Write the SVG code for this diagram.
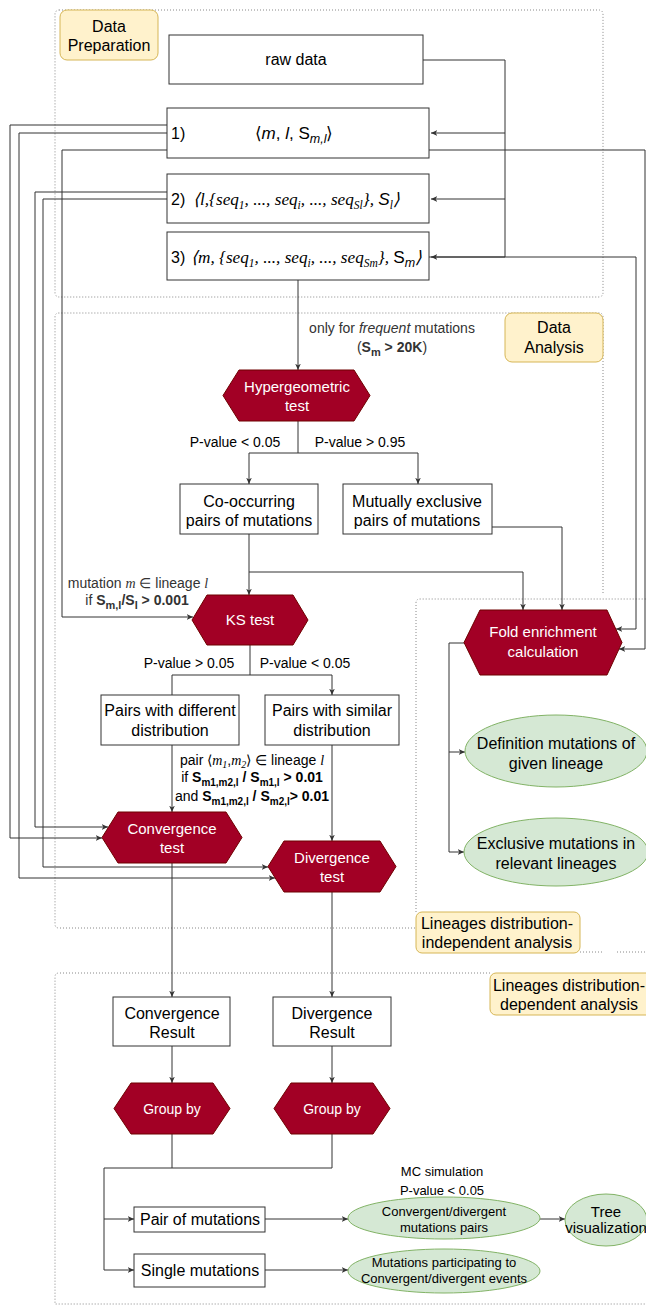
<svg xmlns="http://www.w3.org/2000/svg" width="646" height="1307" viewBox="0 0 646 1307">
<style>
.t{font-family:"Liberation Sans",Arial,Helvetica,sans-serif;fill:#000}
.c{text-anchor:middle}
.s16{font-size:16px}
.s15{font-size:15px}
.s14{font-size:14px}
.s13{font-size:13px}
.w{fill:#fff}
.g{fill:#333}
.b{font-weight:bold}
.it{font-style:italic}
.ser{font-family:"Liberation Serif","Times New Roman",serif;font-style:italic}
.box{fill:#fff;stroke:#333;stroke-width:1}
.hex{fill:#a20025;stroke:#6f0000;stroke-width:1}
.ell{fill:#d5e8d4;stroke:#82b366;stroke-width:1}
.lab{fill:#fff2cc;stroke:#d6b656;stroke-width:1}
.dot{fill:none;stroke:#888;stroke-width:1;stroke-dasharray:1 2}
.e{fill:none;stroke:#333;stroke-width:1}
</style>
<defs>
<marker id="arr" viewBox="0 0 10 10" refX="9" refY="5" markerWidth="7" markerHeight="7" orient="auto" markerUnits="userSpaceOnUse">
<path d="M0,1 L9,5 L0,9 L2.5,5 z" fill="#333"/>
</marker>
</defs>

<!-- containers -->
<g id="containers">
<rect class="dot" x="55" y="10" width="548" height="287" rx="4"/>
<path class="dot" d="M415,928 H59 Q55,928 55,924 V317 Q55,313 59,313 H599 Q603,313 603,317 V595"/>
<path class="dot" d="M416,912 V603 Q416,599 420,599 H646"/>
<path class="dot" d="M580,952 H602 M617,952 H646"/>
<path class="dot" d="M490,973 H59 Q55,973 55,977 V1304 H646"/>
</g>

<!-- connectors -->
<g id="connectors" class="e">
<path d="M423,60 H505 V257 H431" marker-end="url(#arr)"/>
<path d="M505,133 H431" marker-end="url(#arr)"/>
<path d="M505,199 H431" marker-end="url(#arr)"/>
<path d="M167,125 H10 V838 H102" marker-end="url(#arr)"/>
<path d="M167,133 H19 V878 H275" marker-end="url(#arr)"/>
<path d="M167,192 H35 V827 H108" marker-end="url(#arr)"/>
<path d="M167,199 H43 V867 H268" marker-end="url(#arr)"/>
<path d="M167,150 H62 V617 H193" marker-end="url(#arr)"/>
<path d="M429,150 H645 V649 H619" marker-end="url(#arr)"/>
<path d="M429,257 H636 V629 H616" marker-end="url(#arr)"/>
<path d="M298,280 V370" marker-end="url(#arr)"/>
<path d="M298,421 V453 H249 V484" marker-end="url(#arr)"/>
<path d="M298,453 H418 V484" marker-end="url(#arr)"/>
<path d="M249,534 V595" marker-end="url(#arr)"/>
<path d="M249,572 H523 V610" marker-end="url(#arr)"/>
<path d="M492,527 H562 V610" marker-end="url(#arr)"/>
<path d="M250,645 V675 H172 V695"/>
<path d="M250,675 H332 V695" marker-end="url(#arr)"/>
<path d="M172,745 V812" marker-end="url(#arr)"/>
<path d="M332,745 V841" marker-end="url(#arr)"/>
<path d="M464,643 H449 V752 H465" marker-end="url(#arr)"/>
<path d="M449,752 V852 H464" marker-end="url(#arr)"/>
<path d="M172,863 V997" marker-end="url(#arr)"/>
<path d="M332,892 V997" marker-end="url(#arr)"/>
<path d="M172,1046 V1083" marker-end="url(#arr)"/>
<path d="M332,1046 V1083" marker-end="url(#arr)"/>
<path d="M172,1134 V1168 H104 V1219 H134" marker-end="url(#arr)"/>
<path d="M104,1219 V1270 H134" marker-end="url(#arr)"/>
<path d="M332,1134 V1168 H172"/>
<path d="M265,1219 H348" marker-end="url(#arr)"/>
<path d="M540,1219 H565" marker-end="url(#arr)"/>
<path d="M265,1270 H348" marker-end="url(#arr)"/>
</g>

<!-- edge labels -->
<g id="edge-labels">
<text class="t s14 c g" x="392" y="333">only for <tspan class="it">frequent</tspan> mutations</text>
<text class="t s14 c g" x="392" y="352">(<tspan class="b">S</tspan><tspan class="b" font-size="11" dy="4">m</tspan><tspan class="b" dy="-4"> &gt; 20K</tspan>)</text>
<text class="t s14 c" x="235" y="447">P-value &lt; 0.05</text>
<text class="t s14 c" x="360" y="447">P-value &gt; 0.95</text>
<text class="t s14 c g" x="138" y="588">mutation <tspan class="ser">m</tspan> ∈ lineage <tspan class="ser">l</tspan></text>
<text class="t s14 c g" x="137" y="605">if <tspan class="b">S</tspan><tspan class="b" font-size="11" dy="4">m,l</tspan><tspan class="b" dy="-4">/S</tspan><tspan class="b" font-size="11" dy="4">l</tspan><tspan class="b" dy="-4"> &gt; 0.001</tspan></text>
<text class="t s14 c" x="189" y="668">P-value &gt; 0.05</text>
<text class="t s14 c" x="305" y="668">P-value &lt; 0.05</text>
<text class="t s14 c" x="252" y="765">pair ⟨<tspan class="ser">m</tspan><tspan class="ser" font-size="10" dy="3">1</tspan><tspan dy="-3">,</tspan><tspan class="ser">m</tspan><tspan class="ser" font-size="10" dy="3">2</tspan><tspan dy="-3">⟩ ∈ lineage </tspan><tspan class="ser">l</tspan></text>
<text class="t s14 c" x="252" y="782">if <tspan class="b">S</tspan><tspan class="b" font-size="10" dy="4">m1,m2,l</tspan><tspan class="b" dy="-4"> / S</tspan><tspan class="b" font-size="10" dy="4">m1,l</tspan><tspan class="b" dy="-4"> &gt; 0.01</tspan></text>
<text class="t s14 c" x="252" y="801">and <tspan class="b">S</tspan><tspan class="b" font-size="10" dy="4">m1,m2,l</tspan><tspan class="b" dy="-4"> / S</tspan><tspan class="b" font-size="10" dy="4">m2,l</tspan><tspan class="b" dy="-4">&gt; 0.01</tspan></text>
<text class="t s13 c" x="442" y="1176">MC simulation</text>
<text class="t s13 c" x="442" y="1195">P-value &lt; 0.05</text>
</g>

<g id="label-data-preparation">
<rect class="lab" x="60" y="10" width="98" height="50" rx="7"/>
<text class="t s16 c" x="109" y="32">Data</text>
<text class="t s16 c" x="109" y="51">Preparation</text>
</g>
<g id="raw-data">
<rect class="box" x="169" y="35" width="254" height="49"/>
<text class="t s16 c" x="296" y="65">raw data</text>
</g>
<g id="box1">
<rect class="box" x="167" y="108" width="262" height="50"/>
<text class="t s16" x="171" y="139">1)</text>
<text class="t c" font-size="17" x="294" y="139">⟨<tspan class="it">m</tspan>, <tspan class="it">l</tspan>, S<tspan class="it" font-size="12.5" dy="4">m,l</tspan><tspan dy="-4">⟩</tspan></text>
</g>
<g id="box2">
<rect class="box" x="167" y="174" width="262" height="49"/>
<text class="t s16" x="171" y="205">2)</text>
<text class="ser" font-size="17.2" x="193" y="205">⟨l,{seq<tspan font-size="11.5" dy="4">1</tspan><tspan dy="-4">, ..., seq</tspan><tspan font-size="11.5" dy="4">i</tspan><tspan dy="-4">, ..., seq</tspan><tspan font-size="11.5" dy="4">Sl</tspan><tspan dy="-4">}, </tspan><tspan font-family="Liberation Sans,Arial,sans-serif">S</tspan><tspan font-size="11.5" dy="4">l</tspan><tspan dy="-4">⟩</tspan></text>
</g>
<g id="box3">
<rect class="box" x="167" y="232" width="262" height="48"/>
<text class="t s16" x="171" y="263">3)</text>
<text class="ser" font-size="17.2" x="191" y="263">⟨m, {seq<tspan font-size="11.5" dy="4">1</tspan><tspan dy="-4">, ..., seq</tspan><tspan font-size="11.5" dy="4">i</tspan><tspan dy="-4">, ..., seq</tspan><tspan font-size="11.5" dy="4">Sm</tspan><tspan dy="-4">}, </tspan><tspan font-family="Liberation Sans,Arial,sans-serif" font-style="normal">S</tspan><tspan font-family="Liberation Sans,Arial,sans-serif" font-size="12.5" dy="4">m</tspan><tspan dy="-4">⟩</tspan></text>
</g>

<g id="label-data-analysis">
<rect class="lab" x="505" y="313" width="98" height="49" rx="7"/>
<text class="t s16 c" x="554" y="333">Data</text>
<text class="t s16 c" x="554" y="353">Analysis</text>
</g>
<g id="hypergeometric">
<polygon class="hex" points="223,395.5 239,370 354,370 370,395.5 354,421 239,421"/>
<text class="t s15 c w" x="297" y="392">Hypergeometric</text>
<text class="t s15 c w" x="297" y="411">test</text>
</g>
<g id="co-occurring">
<rect class="box" x="180" y="484" width="138" height="50"/>
<text class="t s16 c" x="249" y="507">Co-occurring</text>
<text class="t s16 c" x="249" y="526">pairs of mutations</text>
</g>
<g id="mutually-exclusive">
<rect class="box" x="343" y="484" width="149" height="50"/>
<text class="t s16 c" x="417" y="507">Mutually exclusive</text>
<text class="t s16 c" x="417" y="526">pairs of mutations</text>
</g>
<g id="ks-test">
<polygon class="hex" points="192,620 207,595 293,595 308,620 293,645 207,645"/>
<text class="t s15 c w" x="250" y="625">KS test</text>
</g>
<g id="fold-enrichment">
<polygon class="hex" points="464,642.5 480,610 607,610 622,642.5 607,675 480,675"/>
<text class="t s15 c w" x="543" y="637">Fold enrichment</text>
<text class="t s15 c w" x="543" y="657">calculation</text>
</g>
<g id="pairs-different">
<rect class="box" x="101" y="695" width="138" height="50"/>
<text class="t s16 c" x="170" y="716">Pairs with different</text>
<text class="t s16 c" x="170" y="736">distribution</text>
</g>
<g id="pairs-similar">
<rect class="box" x="265" y="695" width="134" height="50"/>
<text class="t s16 c" x="332" y="716">Pairs with similar</text>
<text class="t s16 c" x="332" y="736">distribution</text>
</g>
<g id="definition-mutations">
<ellipse class="ell" cx="556" cy="751" rx="91" ry="36"/>
<text class="t s16 c" x="556" y="749">Definition mutations of</text>
<text class="t s16 c" x="556" y="769">given lineage</text>
</g>
<g id="exclusive-mutations">
<ellipse class="ell" cx="556" cy="852" rx="92" ry="34"/>
<text class="t s16 c" x="556" y="849">Exclusive mutations in</text>
<text class="t s16 c" x="556" y="869">relevant lineages</text>
</g>
<g id="convergence-test">
<polygon class="hex" points="102,837.5 118,812 226,812 242,837.5 226,863 118,863"/>
<text class="t s15 c w" x="172" y="834">Convergence</text>
<text class="t s15 c w" x="172" y="853">test</text>
</g>
<g id="divergence-test">
<polygon class="hex" points="268,866.5 284,841 380,841 396,866.5 380,892 284,892"/>
<text class="t s15 c w" x="332" y="863">Divergence</text>
<text class="t s15 c w" x="332" y="882">test</text>
</g>
<g id="label-independent">
<rect class="lab" x="416" y="912" width="164" height="41" rx="6"/>
<text class="t s16 c" x="497" y="929">Lineages distribution-</text>
<text class="t s16 c" x="497" y="948">independent analysis</text>
</g>
<g id="label-dependent">
<rect class="lab" x="490" y="973" width="170" height="42" rx="6"/>
<text class="t s16 c" x="569" y="991">Lineages distribution-</text>
<text class="t s16 c" x="569" y="1010">dependent analysis</text>
</g>
<g id="convergence-result">
<rect class="box" x="113" y="997" width="117" height="49"/>
<text class="t s16 c" x="172" y="1019">Convergence</text>
<text class="t s16 c" x="172" y="1038">Result</text>
</g>
<g id="divergence-result">
<rect class="box" x="273" y="997" width="118" height="49"/>
<text class="t s16 c" x="332" y="1019">Divergence</text>
<text class="t s16 c" x="332" y="1038">Result</text>
</g>
<g id="group-by-1">
<polygon class="hex" points="114,1108.5 131,1083 213,1083 230,1108.5 213,1134 131,1134"/>
<text class="t s14 c w" x="172" y="1114">Group by</text>
</g>
<g id="group-by-2">
<polygon class="hex" points="274,1108.5 291,1083 373,1083 390,1108.5 373,1134 291,1134"/>
<text class="t s14 c w" x="332" y="1114">Group by</text>
</g>
<g id="pair-of-mutations">
<rect class="box" x="134" y="1207" width="131" height="25"/>
<text class="t s16 c" x="200" y="1225">Pair of mutations</text>
</g>
<g id="single-mutations">
<rect class="box" x="134" y="1254" width="131" height="33"/>
<text class="t s16 c" x="200" y="1276">Single mutations</text>
</g>
<g id="convergent-pairs">
<ellipse class="ell" cx="444" cy="1218" rx="96" ry="21"/>
<text class="t s13 c" x="444" y="1216">Convergent/divergent</text>
<text class="t s13 c" x="444" y="1232">mutations pairs</text>
</g>
<g id="tree-visualization">
<ellipse class="ell" cx="606" cy="1220" rx="41" ry="26"/>
<text class="t s15 c" x="606" y="1217">Tree</text>
<text class="t s15 c" x="606" y="1233">visualization</text>
</g>
<g id="mutations-participating">
<ellipse class="ell" cx="444" cy="1271" rx="96" ry="22"/>
<text class="t s13 c" x="444" y="1267">Mutations participating to</text>
<text class="t s13 c" x="444" y="1283">Convergent/divergent events</text>
</g>
</svg>
